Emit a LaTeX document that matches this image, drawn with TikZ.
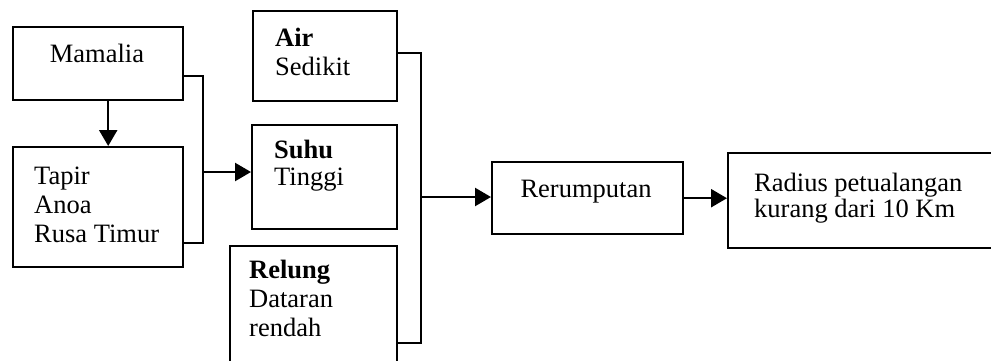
\documentclass[tikz,border=0pt]{standalone}
\usepackage{fontspec}
\setmainfont{Liberation Serif}
\usetikzlibrary{arrows.meta}

\tikzset{
  box/.style={draw,rectangle,inner sep=0pt,anchor=north west},
  txt/.style={inner sep=0pt,anchor=base west,align=left},
  arr/.style={-{Triangle[length=16pt,width=18pt]}},
}

\begin{document}
\begin{tikzpicture}[x=1pt,y=-1pt,line width=2.4pt,font=\fontsize{26.5}{29}\selectfont]
\useasboundingbox (0,0) rectangle (991,360);
% kotak
\node[box,minimum width=170,minimum height=73] (mamalia) at (12,26) {};
\node[box,minimum width=170,minimum height=120] (tapir) at (12,146) {};
\node[box,minimum width=144,minimum height=90] (air) at (252,10) {};
\node[box,minimum width=145,minimum height=104] (suhu) at (251,124) {};
\node[box,minimum width=167,minimum height=127] (relung) at (229,245) {};
\node[box,minimum width=191,minimum height=72] (rumput) at (491,161) {};
\node[box,minimum width=273,minimum height=95] (radius) at (727,152) {};
% teks (base = baris terakhir)
\node[inner sep=0pt,anchor=base] (mamalia-t) at (97,62) {Mamalia};
\node[txt] (tapir-t) at (33,242) {Tapir\\Anoa\\Rusa Timur};
\node[txt] (air-t) at (274,75) {\textbf{Air}\\Sedikit};
\node[txt,font=\fontsize{26.5}{27}\selectfont] (suhu-t) at (273,185) {\textbf{Suhu}\\Tinggi};
\node[txt] (relung-t) at (248,336) {\textbf{Relung}\\Dataran\\rendah};
\node[inner sep=0pt,anchor=base] (rumput-t) at (586,197) {Rerumputan};
\node[txt,font=\fontsize{26.5}{23}\selectfont] (radius-t) at (753,217) {Radius petualangan\\kurang dari 10 Km};
% panah
\coordinate (j1) at (203,172);
\coordinate (j2) at (421,197);
\draw[arr] ([xshift=10pt]mamalia.south) -- ([xshift=10pt]tapir.north);
\draw ([yshift=-12.5pt]mamalia.east) -| (j1) |- ([yshift=-36pt]tapir.east);
\draw[arr] (j1) -- (j1 -| suhu.west);
\draw ([yshift=3pt]air.east) -| (j2) |- ([yshift=-33.5pt]relung.east);
\draw[arr] (j2) -- (j2 -| rumput.west);
\draw[arr] (rumput.east) -- (rumput.east -| radius.west);
\end{tikzpicture}
\end{document}
